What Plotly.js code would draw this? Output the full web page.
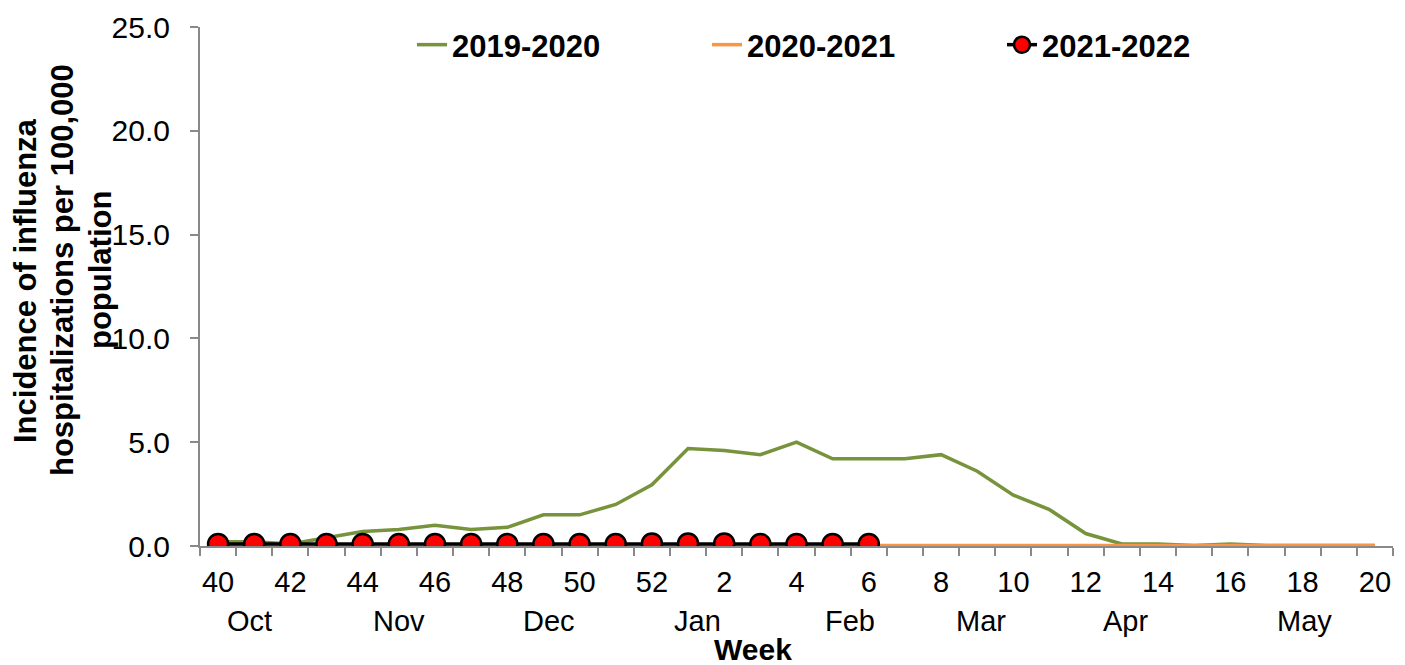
<!DOCTYPE html>
<html>
<head>
<meta charset="utf-8">
<script src="https://cdn.plot.ly/plotly-3.0.1.min.js"></script>
<style>html,body{margin:0;padding:0;background:#fff;}#chart{width:1405px;height:665px;}</style>
</head>
<body>
<div id="chart"></div>
<script>
// Week labels (MMWR weeks, season order)
const weekLabels = ['40','41','42','43','44','45','46','47','48','49','50','51','52',
  '1','2','3','4','5','6','7','8','9','10','11','12','13','14','15','16','17','18','19','20'];

// Incidence of influenza hospitalizations per 100,000 population
const season2019 = [0.2,0.2,0.1,0.4,0.7,0.8,1.0,0.8,0.9,1.5,1.5,2.0,2.95,
  4.7,4.6,4.4,5.0,4.2,4.2,4.2,4.4,3.6,2.45,1.75,0.6,0.1,0.1,0.03,0.1,0.03,0.02,0.02,0.02];
const season2020 = [0.02,0.02,0.02,0.02,0.02,0.02,0.02,0.02,0.05,0.05,0.05,0.05,0.05,
  0.03,0.02,0.02,0.02,0.02,0.02,0.02,0.02,0.02,0.02,0.02,0.02,0.02,0.02,0.02,0.02,0.02,0.02,0.02,0.02];
const season2021 = [0.1,0.1,0.1,0.1,0.1,0.1,0.1,0.1,0.1,0.1,0.1,0.1,0.12,0.12,0.12,0.1,0.1,0.1,0.1];

const seasonNames = ['2019-2020','2020-2021','2021-2022'];

// Month labels and the week (category) they sit under
const monthLabels = ['Oct','Nov','Dec','Jan','Feb','Mar','Apr','May'];
const monthWeekPos = [0.87,5.0,9.15,13.27,17.48,21.1,25.1,30.05];

const tickIdx = [];
const tickTxt = [];
for (let i = 0; i < weekLabels.length; i += 2) { tickIdx.push(i); tickTxt.push(weekLabels[i]); }

const idxAll = weekLabels.map((_, i) => i);

const traces = [
  {x: idxAll, y: season2019, name: seasonNames[0], type: 'scatter', mode: 'lines',
   line: {color: '#77933C', width: 3.5}},
  {x: idxAll, y: season2020, name: seasonNames[1], type: 'scatter', mode: 'lines',
   line: {color: '#F79646', width: 3.5}},
  {x: idxAll.slice(0, season2021.length), y: season2021, name: seasonNames[2], type: 'scatter', mode: 'lines+markers',
   line: {color: '#000000', width: 3.5},
   marker: {color: '#FF0000', size: 20, line: {color: '#000000', width: 2.5}}}
];

const FONT = 'Liberation Sans, Arial, sans-serif';
const PW = 1193, PH = 519, L = 200, T = 27;
const annotations = [];
monthLabels.forEach((m, k) => {
  annotations.push({x: monthWeekPos[k], xref: 'x', y: -(621 - 546) / PH, yref: 'paper', text: m,
    showarrow: false, xanchor: 'center', yanchor: 'middle', font: {family: FONT, size: 29, color: '#000'}});
});
annotations.push({x: 14.8, xref: 'x', y: -(649 - 546) / PH, yref: 'paper', text: '<b>Week</b>',
  showarrow: false, xanchor: 'center', yanchor: 'middle', font: {family: FONT, size: 30, color: '#000'}});
// y-axis title lines
const yTitleLines = ['Incidence of influenza', 'hospitalizations per 100,000', 'population'];
const yTitleX = [25, 62, 100];
const yTitleY = [281, 270, 270];
yTitleLines.forEach((t, k) => {
  annotations.push({x: (yTitleX[k] - L) / PW, xref: 'paper', y: (546 - yTitleY[k]) / PH, yref: 'paper',
    text: '<b>' + t + '</b>', textangle: -90, showarrow: false, xanchor: 'center', yanchor: 'middle',
    font: {family: FONT, size: 31, color: '#000'}});
});

const layout = {
  width: 1405, height: 665,
  margin: {l: 200, r: 12, t: 27, b: 119, pad: 0, autoexpand: false},
  paper_bgcolor: '#fff', plot_bgcolor: '#fff',
  showlegend: true,
  legend: {orientation: 'h', x: (412 - L) / PW, xanchor: 'left', y: (546 - 45) / PH, yanchor: 'middle',
    font: {family: FONT, size: 31, color: '#000', weight: 'bold'},
    entrywidth: 250, entrywidthmode: 'pixels', bgcolor: 'rgba(0,0,0,0)', traceorder: 'normal'},
  xaxis: {range: [-0.5, 32.5], tickmode: 'array', tickvals: tickIdx, ticktext: tickTxt,
    ticks: '', showgrid: false, zeroline: false, showline: true, linecolor: '#898989', linewidth: 2,
    tickfont: {family: FONT, size: 29, color: '#000'},
    minor: {tick0: -0.5, dtick: 1, ticks: 'outside', ticklen: 8, tickcolor: '#898989', tickwidth: 2, showgrid: false},
    ticklabelstandoff: 9, fixedrange: true, automargin: false},
  yaxis: {range: [0, 25], dtick: 5, tick0: 0, tickformat: '.1f', ticks: 'outside', ticklen: 8,
    tickcolor: '#898989', tickwidth: 2, showgrid: false, zeroline: false, showline: true,
    linecolor: '#898989', linewidth: 2, tickfont: {family: FONT, size: 30, color: '#000'},
    ticklabelstandoff: 14, fixedrange: true, automargin: false},
  annotations: annotations
};

Plotly.newPlot('chart', traces, layout, {displayModeBar: false, staticPlot: true});
</script>
</body>
</html>
